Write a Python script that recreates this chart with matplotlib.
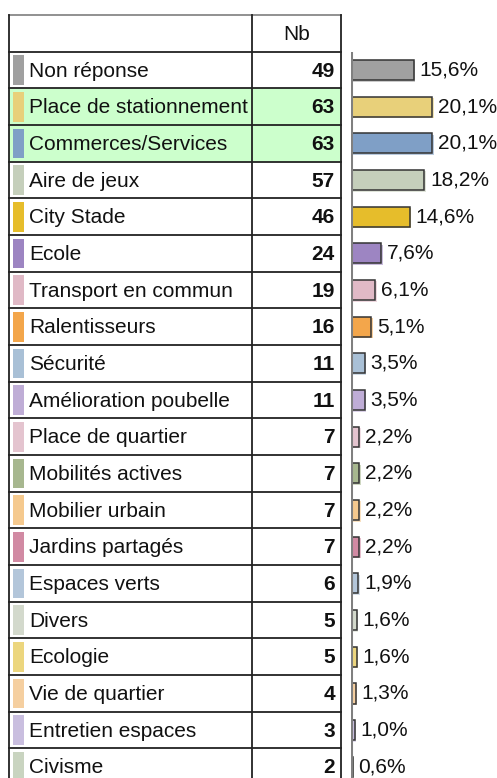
import matplotlib
matplotlib.use("Agg")
import matplotlib.pyplot as plt
from matplotlib.patches import Rectangle

labels = ["Non réponse", "Place de stationnement", "Commerces/Services", "Aire de jeux",
          "City Stade", "Ecole", "Transport en commun", "Ralentisseurs", "Sécurité",
          "Amélioration poubelle", "Place de quartier", "Mobilités actives",
          "Mobilier urbain", "Jardins partagés", "Espaces verts", "Divers", "Ecologie",
          "Vie de quartier", "Entretien espaces", "Civisme"]
counts = [49, 63, 63, 57, 46, 24, 19, 16, 11, 11, 7, 7, 7, 7, 6, 5, 5, 4, 3, 2]
pcts = [15.6, 20.1, 20.1, 18.2, 14.6, 7.6, 6.1, 5.1, 3.5, 3.5, 2.2, 2.2, 2.2, 2.2,
        1.9, 1.6, 1.6, 1.3, 1.0, 0.6]
colors = ["#a0a0a0", "#e8d07a", "#7f9fc6", "#c5cfbb", "#e6bd2b", "#9d85c2", "#e0b9c6",
          "#f3a64b", "#a9c0d6", "#bfadd6", "#e4c4cf", "#a7b78f", "#f5c98e", "#d18aa3",
          "#b3c6da", "#d3d9cc", "#ecd67e", "#f5cfa0", "#c9bedf", "#c9d4c0"]
highlight = ["Place de stationnement", "Commerces/Services"]

W, H = 497, 778
fig = plt.figure(figsize=(W / 100, H / 100), dpi=100)
fig.patch.set_facecolor("white")

# table drawn in pixel coordinates
tab = fig.add_axes([0, 0, 1, 1])
tab.set_xlim(0, W)
tab.set_ylim(H, 0)
tab.axis("off")

X0, X1, X2 = 9.3, 251.7, 340.7
Y_TOP, Y_HEAD, ROW = 15, 51.7, 36.67
FONT = "Liberation Sans"
FS = 15

for i, lab in enumerate(labels):
    y0 = Y_HEAD + i * ROW
    if lab in highlight:
        tab.add_patch(Rectangle((X0, y0), X2 - X0, ROW, facecolor="#ccffcc", edgecolor="none", zorder=0))
    tab.add_patch(Rectangle((13, y0 + 3.5), 11, ROW - 7, facecolor=colors[i], edgecolor="none", zorder=1))
    yc = y0 + ROW / 2
    tab.text(29, yc + 1, lab, ha="left", va="center", fontsize=FS, family=FONT, color="#111111")
    tab.text(335, yc + 1, str(counts[i]), ha="right", va="center", fontsize=FS,
             family=FONT, fontweight="bold", color="#111111")
    tab.plot([X0, X2], [y0 + ROW, y0 + ROW], color="#222222", lw=1.3, zorder=2)

tab.text((X1 + X2) / 2, (Y_TOP + Y_HEAD) / 2 + 1, "Nb", ha="center", va="center",
         fontsize=FS, family=FONT, color="#111111")
tab.plot([X0, X2], [Y_TOP, Y_TOP], color="#888888", lw=1.3)
tab.plot([X0, X2], [Y_HEAD, Y_HEAD], color="#222222", lw=1.3)
for x in (X0, X1, X2):
    tab.plot([x, x], [Y_TOP, H], color="#222222", lw=1.3)

# bar chart
AX_X, SCALE = 350.5, 4.06
ax = fig.add_axes([AX_X / W, 0, 1 - AX_X / W, (H - Y_HEAD) / H])
ax.set_xlim(0, (W - AX_X) / SCALE)
n_vis = (H - Y_HEAD) / ROW
ax.set_ylim(n_vis - 0.5, -0.5)
ax.axis("off")
ax.axvline(0, color="#808080", lw=2.2, zorder=5)

ypos = list(range(len(labels)))
dx, dy = 1.5 / SCALE, 1.5 / ROW
ax.barh([y + dy for y in ypos], [p + dx for p in pcts], height=0.55, color=colors,
        alpha=0.55, edgecolor="none", zorder=2)
ax.barh(ypos, pcts, height=0.55, color=colors, edgecolor="#333333", lw=1.1, zorder=3)
for y, p in zip(ypos, pcts):
    ax.text(p + 1.4, y, f"{p:.1f}%".replace(".", ","), ha="left", va="center",
            fontsize=FS, family=FONT, color="#111111")

plt.savefig("out.png", dpi=100, facecolor="white")
plt.close()
